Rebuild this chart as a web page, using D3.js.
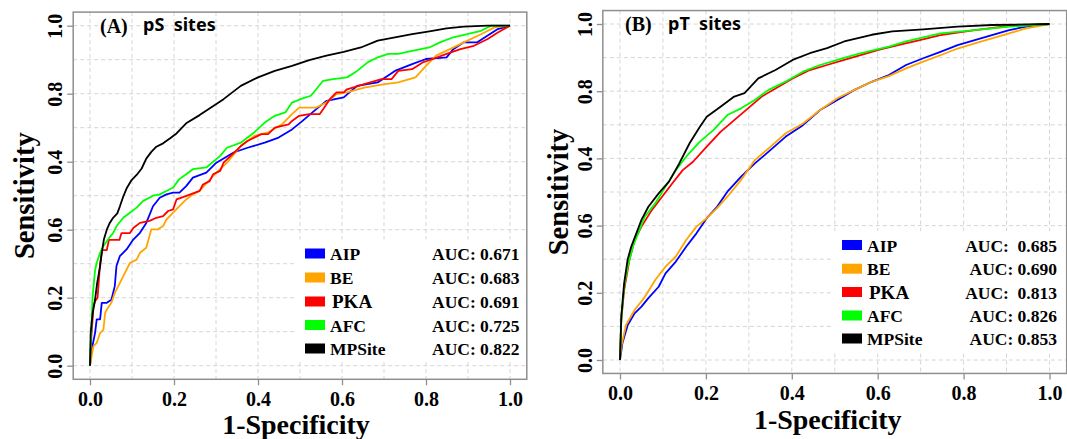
<!DOCTYPE html>
<html>
<head>
<meta charset="utf-8">
<script src="https://cdn.jsdelivr.net/npm/d3@7"></script>
<style>
  body { margin: 0; background: #fff; }
  svg { display: block; }
  .tick text { font-family: "Liberation Serif", "Times New Roman", serif; font-weight: bold; }
</style>
</head>
<body>
<svg id="chart" width="1067" height="439"></svg>
<script>
// methods and AUC values
const methods = ["AIP", "BE", "PKA", "AFC", "MPSite"];
const aucPS = ["AUC: 0.671", "AUC: 0.683", "AUC: 0.691", "AUC: 0.725", "AUC: 0.822"];
const aucPT = ["AUC:  0.685", "AUC: 0.690", "AUC:  0.813", "AUC: 0.826", "AUC: 0.853"];
const xTicks = [0, 0.2, 0.4, 0.6, 0.8, 1.0];
const xTickLabels = ["0.0", "0.2", "0.4", "0.6", "0.8", "1.0"];
const yTickLabels = ["0.0", "0.2", "0.6", "0.4", "0.8", "1.0"];   // as printed in the figure

// ROC points, [1-specificity, sensitivity], panel A (pS sites)
const psAIP = [[0,0],[0.004,0.047],[0.012,0.096],[0.016,0.136],[0.024,0.136],[0.028,0.185],[0.04,0.185],
  [0.051,0.194],[0.059,0.234],[0.063,0.293],[0.071,0.322],[0.087,0.342],[0.103,0.371],[0.119,0.391],
  [0.134,0.42],[0.15,0.469],[0.166,0.494],[0.182,0.504],[0.198,0.509],[0.213,0.509],[0.229,0.528],
  [0.245,0.553],[0.277,0.568],[0.301,0.597],[0.342,0.627],[0.375,0.641],[0.416,0.656],[0.449,0.671],
  [0.481,0.695],[0.506,0.72],[0.538,0.754],[0.563,0.779],[0.604,0.789],[0.636,0.823],[0.685,0.833],
  [0.726,0.867],[0.767,0.887],[0.8,0.902],[0.849,0.907],[0.865,0.931],[0.89,0.951],[0.922,0.951],
  [0.947,0.971],[0.971,0.99],[1,1]];
const psBE = [[0,0],[0.008,0.057],[0.016,0.067],[0.024,0.096],[0.032,0.106],[0.036,0.155],[0.04,0.165],
  [0.051,0.185],[0.059,0.214],[0.071,0.243],[0.079,0.263],[0.095,0.302],[0.111,0.312],[0.119,0.332],
  [0.134,0.347],[0.146,0.401],[0.162,0.401],[0.174,0.411],[0.182,0.43],[0.198,0.45],[0.213,0.469],
  [0.229,0.489],[0.245,0.504],[0.261,0.514],[0.293,0.558],[0.326,0.597],[0.359,0.646],[0.391,0.676],
  [0.424,0.686],[0.457,0.71],[0.481,0.74],[0.498,0.759],[0.538,0.759],[0.563,0.774],[0.587,0.799],
  [0.612,0.804],[0.653,0.818],[0.702,0.828],[0.734,0.833],[0.775,0.848],[0.8,0.882],[0.824,0.912],
  [0.857,0.931],[0.89,0.951],[0.931,0.975],[0.963,0.995],[1,1]];
const psPKA = [[0,0],[0.003,0.08],[0.008,0.17],[0.012,0.19],[0.018,0.2],[0.024,0.3],[0.029,0.34],
  [0.04,0.34],[0.045,0.37],[0.07,0.37],[0.075,0.39],[0.095,0.39],[0.103,0.405],[0.119,0.42],
  [0.142,0.426],[0.158,0.435],[0.174,0.44],[0.186,0.455],[0.198,0.46],[0.206,0.489],[0.228,0.499],
  [0.261,0.514],[0.269,0.533],[0.285,0.543],[0.293,0.563],[0.31,0.573],[0.318,0.597],[0.342,0.625],
  [0.359,0.646],[0.375,0.661],[0.408,0.681],[0.424,0.681],[0.44,0.7],[0.473,0.71],[0.481,0.72],
  [0.498,0.735],[0.522,0.74],[0.547,0.74],[0.555,0.754],[0.571,0.784],[0.587,0.804],[0.604,0.804],
  [0.612,0.813],[0.653,0.828],[0.694,0.843],[0.718,0.843],[0.734,0.867],[0.767,0.872],[0.792,0.892],
  [0.816,0.902],[0.849,0.917],[0.882,0.931],[0.914,0.941],[0.947,0.961],[0.971,0.98],[1,1]];
const psAFC = [[0,0],[0.002,0.07],[0.006,0.2],[0.012,0.28],[0.016,0.303],[0.024,0.332],[0.032,0.352],
  [0.045,0.375],[0.055,0.39],[0.063,0.41],[0.079,0.435],[0.095,0.45],[0.111,0.465],[0.126,0.484],
  [0.15,0.5],[0.166,0.504],[0.182,0.514],[0.198,0.524],[0.212,0.548],[0.229,0.563],[0.245,0.578],
  [0.277,0.583],[0.31,0.617],[0.326,0.641],[0.359,0.656],[0.391,0.686],[0.416,0.715],[0.44,0.735],
  [0.465,0.745],[0.481,0.774],[0.506,0.786],[0.526,0.794],[0.555,0.838],[0.579,0.843],[0.612,0.848],
  [0.636,0.867],[0.661,0.892],[0.685,0.907],[0.71,0.917],[0.734,0.917],[0.767,0.926],[0.808,0.936],
  [0.833,0.951],[0.865,0.966],[0.898,0.975],[0.931,0.985],[0.955,1],[1,1]];
const psMPSite = [[0,0],[0.0016,0.096],[0.0063,0.155],[0.012,0.194],[0.017,0.243],[0.024,0.292],
  [0.028,0.332],[0.033,0.371],[0.04,0.4],[0.047,0.42],[0.055,0.435],[0.065,0.448],[0.071,0.468],
  [0.079,0.497],[0.087,0.521],[0.099,0.546],[0.111,0.561],[0.123,0.58],[0.134,0.609],[0.146,0.629],
  [0.158,0.644],[0.174,0.654],[0.19,0.668],[0.206,0.683],[0.229,0.713],[0.261,0.737],[0.318,0.784],
  [0.359,0.823],[0.4,0.848],[0.44,0.867],[0.481,0.882],[0.522,0.899],[0.563,0.912],[0.604,0.923],
  [0.645,0.936],[0.685,0.956],[0.726,0.966],[0.767,0.975],[0.808,0.983],[0.849,0.992],[0.89,0.997],
  [0.947,1],[1,1]];

// panel B (pT sites)
const ptAIP = [[0,0],[0.0056,0.05],[0.018,0.104],[0.034,0.139],[0.05,0.159],[0.066,0.184],[0.09,0.218],
  [0.106,0.258],[0.13,0.293],[0.154,0.337],[0.178,0.377],[0.202,0.422],[0.226,0.456],[0.25,0.501],
  [0.282,0.546],[0.314,0.585],[0.346,0.62],[0.386,0.665],[0.426,0.699],[0.466,0.744],[0.506,0.774],
  [0.546,0.804],[0.586,0.828],[0.626,0.848],[0.666,0.878],[0.706,0.898],[0.746,0.917],[0.786,0.937],
  [0.826,0.952],[0.866,0.967],[0.906,0.982],[0.946,0.992],[1,1]];
const ptBE = [[0,0],[0.003,0.04],[0.014,0.104],[0.034,0.149],[0.058,0.188],[0.082,0.238],[0.106,0.278],
  [0.13,0.308],[0.154,0.357],[0.178,0.397],[0.202,0.422],[0.226,0.452],[0.25,0.486],[0.282,0.536],
  [0.314,0.595],[0.346,0.63],[0.386,0.675],[0.426,0.704],[0.466,0.744],[0.506,0.779],[0.546,0.804],
  [0.586,0.828],[0.626,0.845],[0.666,0.868],[0.706,0.888],[0.746,0.907],[0.786,0.927],[0.826,0.942],
  [0.866,0.957],[0.906,0.972],[0.946,0.987],[1,1]];
const ptPKA = [[0,0],[0.003,0.119],[0.0096,0.208],[0.022,0.298],[0.034,0.357],[0.05,0.397],[0.074,0.446],
  [0.098,0.486],[0.122,0.526],[0.146,0.565],[0.17,0.59],[0.202,0.635],[0.234,0.679],[0.266,0.714],
  [0.298,0.749],[0.33,0.784],[0.362,0.808],[0.402,0.838],[0.442,0.863],[0.482,0.878],[0.522,0.893],
  [0.562,0.908],[0.602,0.923],[0.65,0.938],[0.698,0.952],[0.746,0.967],[0.826,0.982],[0.906,0.994],[1,1]];
const ptAFC = [[0,0],[0.003,0.119],[0.0096,0.218],[0.018,0.278],[0.03,0.337],[0.042,0.377],[0.058,0.427],
  [0.082,0.466],[0.106,0.516],[0.13,0.565],[0.154,0.605],[0.186,0.65],[0.218,0.685],[0.25,0.729],
  [0.282,0.749],[0.314,0.774],[0.346,0.804],[0.386,0.829],[0.426,0.858],[0.466,0.878],[0.506,0.893],
  [0.546,0.908],[0.586,0.921],[0.626,0.933],[0.666,0.948],[0.706,0.96],[0.746,0.972],[0.826,0.982],
  [0.906,0.992],[1,1]];
const ptMPSite = [[0,0],[0.003,0.129],[0.0096,0.228],[0.0176,0.298],[0.026,0.337],[0.038,0.377],
  [0.05,0.417],[0.066,0.456],[0.09,0.496],[0.114,0.531],[0.138,0.585],[0.162,0.645],[0.186,0.694],
  [0.202,0.724],[0.234,0.754],[0.266,0.784],[0.29,0.794],[0.322,0.838],[0.362,0.863],[0.402,0.893],
  [0.442,0.913],[0.482,0.928],[0.522,0.948],[0.586,0.968],[0.634,0.978],[0.706,0.984],[0.786,0.992],
  [0.866,0.997],[1,1]];

const colors = ["#0000ff", "#ffa500", "#ff0000", "#00ff00", "#000000"];
const serif = '"Liberation Serif", "Times New Roman", serif';

const svg = d3.select("#chart");

function drawPanel(p) {
  const x = d3.scaleLinear().domain([0, 1]).range([p.x0, p.x1]);
  const y = d3.scaleLinear().domain([0, 1]).range([p.y0, p.y1]);
  // R style 4% extension
  const bx0 = x(-0.04), bx1 = x(1.04), by0 = y(-0.04), by1 = y(1.04);
  const g = svg.append("g");

  // dashed grid
  const grid = d3.range(0, 11).map(i => i / 10);
  g.selectAll(".vg").data(grid).enter().append("line")
    .attr("x1", d => x(d)).attr("x2", d => x(d))
    .attr("y1", by1).attr("y2", by0)
    .attr("stroke", "#d6d6d6").attr("stroke-dasharray", "4,3");
  g.selectAll(".hg").data(grid).enter().append("line")
    .attr("y1", d => y(d)).attr("y2", d => y(d))
    .attr("x1", bx0).attr("x2", bx1)
    .attr("stroke", "#d6d6d6").attr("stroke-dasharray", "4,3");

  // curves
  const line = d3.line().x(d => x(d[0])).y(d => y(d[1]));
  p.series.forEach((s, i) => {
    g.append("path").datum(s)
      .attr("d", line)
      .attr("fill", "none")
      .attr("stroke", colors[i])
      .attr("stroke-width", 1.8)
      .attr("stroke-linejoin", "round");
  });

  // legend
  g.append("rect")
    .attr("x", p.lgX - 8).attr("y", p.lgRows[0] - 14)
    .attr("width", bx1 - (p.lgX - 8) - 1).attr("height", p.lgRows[4] - p.lgRows[0] + 27)
    .attr("fill", "#fff");
  methods.forEach((m, i) => {
    const cy = p.lgRows[i];
    g.append("rect").attr("x", p.lgX).attr("y", cy - 5).attr("width", 20).attr("height", 10)
      .attr("fill", colors[i]);
    g.append("text").attr("x", p.lgX + 25 + (m === "PKA" ? 2 : 0)).attr("y", cy + 6.5)
      .attr("font-family", serif).attr("font-weight", "bold")
      .attr("font-size", m === "PKA" ? 19 : 17.5)
      .text(m);
    g.append("text").attr("x", p.aucX).attr("y", cy + 6.5)
      .attr("text-anchor", "end").attr("xml:space", "preserve")
      .attr("font-family", serif).attr("font-weight", "bold").attr("font-size", 17.5)
      .text(p.auc[i]);
  });

  // box
  g.append("rect").attr("x", bx0).attr("y", by1)
    .attr("width", bx1 - bx0).attr("height", by0 - by1)
    .attr("fill", "none").attr("stroke", "#8f8f8f").attr("stroke-width", 1.5);

  // axes
  const xAxis = g.append("g").attr("transform", "translate(0," + by0 + ")")
    .call(d3.axisBottom(x).tickValues(xTicks).tickSize(6)
      .tickFormat((d, i) => xTickLabels[i]));
  xAxis.select(".domain").remove();
  xAxis.selectAll("line").attr("stroke", "#8f8f8f").attr("stroke-width", 1.3);
  xAxis.selectAll("text").attr("y", 26.7).attr("dy", 0)
    .attr("font-size", 20).attr("fill", "#000");

  const yAxis = g.append("g").attr("transform", "translate(" + bx0 + ",0)")
    .call(d3.axisLeft(y).tickValues(xTicks).tickSize(6)
      .tickFormat((d, i) => yTickLabels[i]));
  yAxis.select(".domain").remove();
  yAxis.selectAll("line").attr("stroke", "#8f8f8f").attr("stroke-width", 1.3);
  yAxis.selectAll("text").attr("x", 0).attr("y", 0).attr("dy", 0)
    .attr("text-anchor", "middle")
    .attr("transform", "translate(-11,0) rotate(-90)")
    .attr("font-size", 20).attr("fill", "#000");

  // axis titles
  g.append("text").attr("x", (p.x0 + p.x1) / 2 + p.xtDx).attr("y", p.xtY)
    .attr("text-anchor", "middle")
    .attr("font-family", serif).attr("font-weight", "bold").attr("font-size", 28)
    .text("1-Specificity");
  g.append("text")
    .attr("transform", "translate(" + p.ytX + "," + ((p.y0 + p.y1) / 2) + ") rotate(-90)")
    .attr("text-anchor", "middle")
    .attr("font-family", serif).attr("font-weight", "bold").attr("font-size", 28.5)
    .text("Sensitivity");

  // panel title
  g.append("text").attr("x", p.tX).attr("y", p.tY)
    .attr("font-family", serif).attr("font-weight", "bold").attr("font-size", 20)
    .text(p.tag);
  g.append("text").attr("x", p.tX + 43).attr("y", p.tY - 1.5)
    .attr("xml:space", "preserve")
    .attr("font-family", '"Noto Sans", sans-serif').attr("font-weight", "bold").attr("font-size", 18)
    .text(p.title);
}

drawPanel({
  x0: 90, x1: 510, y0: 365.7, y1: 25.7,
  series: [psAIP, psBE, psPKA, psAFC, psMPSite], auc: aucPS,
  lgX: 305, lgRows: [253.5, 277.5, 301.5, 325, 348.5], aucX: 519.5,
  xtY: 433.5, xtDx: -4, ytX: 33.5,
  tX: 100, tY: 32.5, tag: "(A)", title: "pS  sites"
});
drawPanel({
  x0: 620, x1: 1049.5, y0: 360, y1: 24,
  series: [ptAIP, ptBE, ptPKA, ptAFC, ptMPSite], auc: aucPT,
  lgX: 842, lgRows: [245, 268.7, 292, 315.5, 338.5], aucX: 1057,
  xtY: 428.5, xtDx: -7, ytX: 568,
  tX: 625, tY: 31, tag: "(B)", title: "pT  sites"
});
</script>
</body>
</html>
